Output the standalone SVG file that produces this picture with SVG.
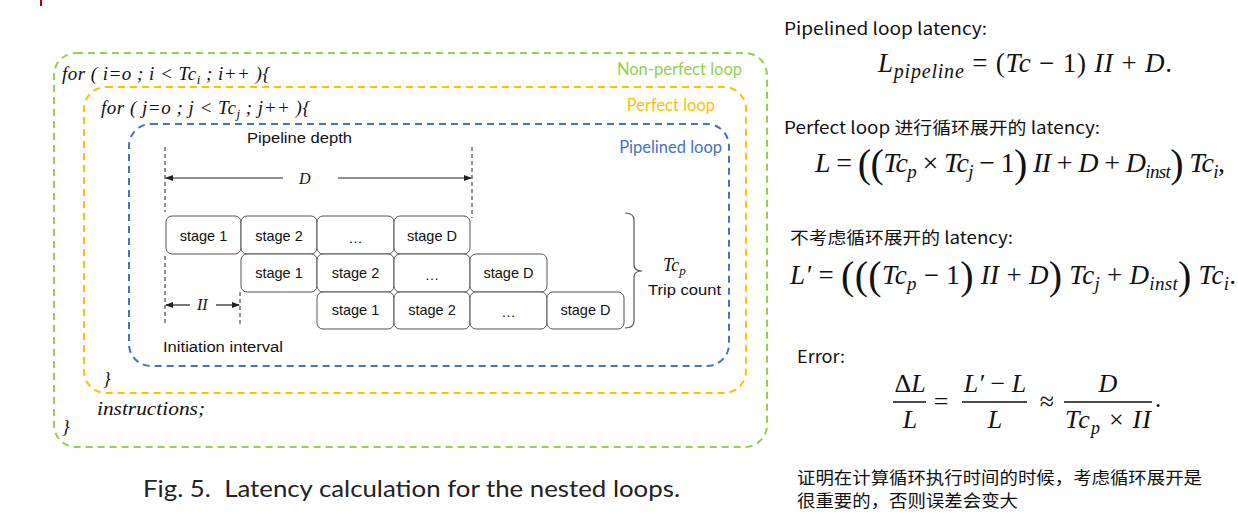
<svg xmlns="http://www.w3.org/2000/svg" width="1238" height="520" viewBox="0 0 1238 520">
<style>
.box{fill:none;stroke-width:2;stroke-dasharray:7 5}
.lbl{font-family:Lato,"Open Sans",sans-serif;font-size:16.5px}
.code{font-family:"Liberation Serif",serif;font-style:italic;font-size:19px;fill:#111}
.ar{font-family:"Liberation Sans",Arial,sans-serif;font-size:15.5px;fill:#111}
.st{fill:#fff;stroke:#555;stroke-width:1}
.stt{font-family:"Liberation Sans",Arial,sans-serif;font-size:14.5px;fill:#111;text-anchor:middle}
.dash{stroke:#222;stroke-width:1;stroke-dasharray:4 3;fill:none}
.ln{stroke:#222;stroke-width:1.2;fill:none}
.cn{font-family:"Noto Sans CJK SC","Noto Sans",sans-serif;font-size:17px;fill:#111}
.m{font-family:"Liberation Serif",serif;font-style:italic;fill:#111}
.r{font-style:normal}
.fl{stroke:#111;stroke-width:1.3}
</style>
<defs>
<marker id="ah" markerWidth="8" markerHeight="6" refX="7" refY="3" orient="auto" markerUnits="userSpaceOnUse">
<path d="M0,0 L8,3 L0,6 Z" fill="#222"/>
</marker>
</defs>

<rect x="40" y="0" width="2" height="6" fill="#a00000"/>

<g id="nonperfect-loop">
<rect class="box" x="54" y="53" width="713" height="394" rx="22" stroke="#92d050"/>
<text class="lbl" x="742" y="75" text-anchor="end" fill="#92d050">Non-perfect loop</text>
<text class="code" x="62" y="80" textLength="208" lengthAdjust="spacing">for ( i=o ; i &lt; Tc<tspan font-size="13" baseline-shift="-4">i</tspan> ;  i++ ){</text>
<text class="code" x="97" y="415" textLength="108" lengthAdjust="spacingAndGlyphs">instructions;</text>
<text class="code" x="62" y="433">}</text>
</g>

<g id="perfect-loop">
<rect class="box" x="84" y="87" width="662" height="306" rx="22" stroke="#ffc000"/>
<text class="lbl" x="715" y="111" text-anchor="end" fill="#ffc000">Perfect loop</text>
<text class="code" x="101" y="114" textLength="209" lengthAdjust="spacing">for ( j=o ;  j &lt; Tc<tspan font-size="13" baseline-shift="-4">j</tspan> ;  j++ ){</text>
<text class="code" x="103" y="385">}</text>
</g>

<g id="pipelined-loop">
<rect class="box" x="129" y="124" width="600" height="242" rx="22" stroke="#4472c4"/>
<text class="lbl" x="722" y="153" text-anchor="end" fill="#4472c4">Pipelined loop</text>
<text class="ar" x="247" y="143" textLength="105" lengthAdjust="spacingAndGlyphs">Pipeline depth</text>
<text class="ar" x="163" y="352" textLength="120" lengthAdjust="spacingAndGlyphs">Initiation interval</text>
</g>

<g id="connectors">
<line class="dash" x1="165" y1="147" x2="165" y2="212"/>
<line class="dash" x1="472" y1="147" x2="472" y2="218"/>
<line class="dash" x1="165" y1="256" x2="165" y2="326"/>
<line class="dash" x1="240" y1="292" x2="240" y2="326"/>
<line class="ln" x1="283" y1="178" x2="166" y2="178" marker-end="url(#ah)"/>
<line class="ln" x1="338" y1="178" x2="471" y2="178" marker-end="url(#ah)"/>
<line class="ln" x1="190" y1="305" x2="166" y2="305" marker-end="url(#ah)"/>
<line class="ln" x1="216" y1="305" x2="239" y2="305" marker-end="url(#ah)"/>
<path d="M625,213 Q634,213 634,220 L634,265 Q634,271 642,271 Q634,271 634,277 L634,321 Q634,328 625,328" fill="none" stroke="#555" stroke-width="1.2"/>
</g>
<text class="m" x="299" y="184" font-size="16">D</text>
<text class="m" x="197" y="310" font-size="16">II</text>
<text class="m" x="663" y="271" font-size="18">Tc<tspan font-size="13" baseline-shift="-4">p</tspan></text>
<text class="ar" x="648" y="295" textLength="73" lengthAdjust="spacingAndGlyphs">Trip count</text>

<g id="stages">
<rect class="st" x="166" y="216" width="75" height="38" rx="6"/><text class="stt" x="203.5" y="241">stage 1</text>
<rect class="st" x="241" y="216" width="76" height="38" rx="6"/><text class="stt" x="279" y="241">stage 2</text>
<rect class="st" x="317" y="216" width="77" height="38" rx="6"/><text class="stt" x="355.5" y="243">…</text>
<rect class="st" x="394" y="216" width="76" height="38" rx="6"/><text class="stt" x="432" y="241">stage D</text>

<rect class="st" x="241" y="254" width="76" height="38" rx="6"/><text class="stt" x="279" y="278">stage 1</text>
<rect class="st" x="317" y="254" width="77" height="38" rx="6"/><text class="stt" x="355.5" y="278">stage 2</text>
<rect class="st" x="394" y="254" width="76" height="38" rx="6"/><text class="stt" x="432" y="280">…</text>
<rect class="st" x="470" y="254" width="77" height="38" rx="6"/><text class="stt" x="508.5" y="278">stage D</text>

<rect class="st" x="317" y="292" width="77" height="37" rx="6"/><text class="stt" x="355.5" y="315">stage 1</text>
<rect class="st" x="394" y="292" width="76" height="37" rx="6"/><text class="stt" x="432" y="315">stage 2</text>
<rect class="st" x="470" y="292" width="77" height="37" rx="6"/><text class="stt" x="508.5" y="317">…</text>
<rect class="st" x="547" y="292" width="77" height="37" rx="6"/><text class="stt" x="585.5" y="315">stage D</text>
</g>

<text x="143" y="497" font-family="Lato,'Noto Sans',sans-serif" font-size="23" fill="#222" textLength="537" lengthAdjust="spacingAndGlyphs" xml:space="preserve">Fig. 5.  Latency calculation for the nested loops.</text>

<g id="right">
<text class="cn" x="784" y="35" textLength="203" lengthAdjust="spacingAndGlyphs">Pipelined loop latency:</text>
<text class="m" x="878" y="72" font-size="27" textLength="294" lengthAdjust="spacing">L<tspan font-size="20" baseline-shift="-6">pipeline</tspan><tspan class="r"> = (</tspan>Tc<tspan class="r"> − 1) </tspan>II<tspan class="r"> + </tspan>D<tspan class="r">.</tspan></text>

<text class="cn" x="784" y="134" textLength="316" lengthAdjust="spacingAndGlyphs">Perfect loop 进行循环展开的 latency:</text>
<text class="m" x="815" y="172" font-size="28" textLength="410" lengthAdjust="spacing">L<tspan class="r"> = </tspan><tspan class="r" font-size="40" baseline-shift="-5">((</tspan>Tc<tspan font-size="19" baseline-shift="-6">p</tspan><tspan class="r"> × </tspan>Tc<tspan font-size="19" baseline-shift="-6">j</tspan><tspan class="r"> − 1</tspan><tspan class="r" font-size="40" baseline-shift="-5">)</tspan> II<tspan class="r"> + </tspan>D<tspan class="r"> + </tspan>D<tspan font-size="19" baseline-shift="-6">inst</tspan><tspan class="r" font-size="40" baseline-shift="-5">)</tspan> Tc<tspan font-size="19" baseline-shift="-6">i</tspan><tspan class="r">,</tspan></text>

<text class="cn" x="790" y="244" textLength="223" lengthAdjust="spacingAndGlyphs">不考虑循环展开的 latency:</text>
<text class="m" x="790" y="284" font-size="27" textLength="446" lengthAdjust="spacing">L′<tspan class="r"> = </tspan><tspan class="r" font-size="40" baseline-shift="-5">(((</tspan>Tc<tspan font-size="19" baseline-shift="-6">p</tspan><tspan class="r"> − 1</tspan><tspan class="r" font-size="40" baseline-shift="-5">)</tspan> II<tspan class="r"> + </tspan>D<tspan class="r" font-size="40" baseline-shift="-5">)</tspan> Tc<tspan font-size="19" baseline-shift="-6">j</tspan><tspan class="r"> + </tspan>D<tspan font-size="19" baseline-shift="-6">inst</tspan><tspan class="r" font-size="40" baseline-shift="-5">)</tspan> Tc<tspan font-size="19" baseline-shift="-6">i</tspan><tspan class="r">.</tspan></text>

<text class="cn" x="797" y="363" textLength="48" lengthAdjust="spacingAndGlyphs">Error:</text>
<g font-size="26" text-anchor="middle">
<text class="m" x="910" y="392"><tspan class="r">Δ</tspan>L</text>
<line class="fl" x1="893" y1="402" x2="926" y2="402"/>
<text class="m" x="910" y="428">L</text>
<text class="m r" x="941" y="410">=</text>
<text class="m" x="995" y="392">L′<tspan class="r"> − </tspan>L</text>
<line class="fl" x1="962" y1="402" x2="1027" y2="402"/>
<text class="m" x="995" y="428">L</text>
<text class="m r" x="1047" y="410">≈</text>
<text class="m" x="1108" y="392">D</text>
<line class="fl" x1="1064" y1="402" x2="1152" y2="402"/>
<text class="m" x="1108" y="428" textLength="86" lengthAdjust="spacing">Tc<tspan font-size="18" baseline-shift="-6">p</tspan><tspan class="r"> × </tspan>II</text>
<text class="m r" x="1158" y="407">.</text>
</g>

<text class="cn" x="797" y="484" font-size="18" textLength="405" lengthAdjust="spacingAndGlyphs">证明在计算循环执行时间的时候，考虑循环展开是</text>
<text class="cn" x="797" y="507" font-size="18" textLength="221" lengthAdjust="spacingAndGlyphs">很重要的，否则误差会变大</text>
</g>
</svg>
